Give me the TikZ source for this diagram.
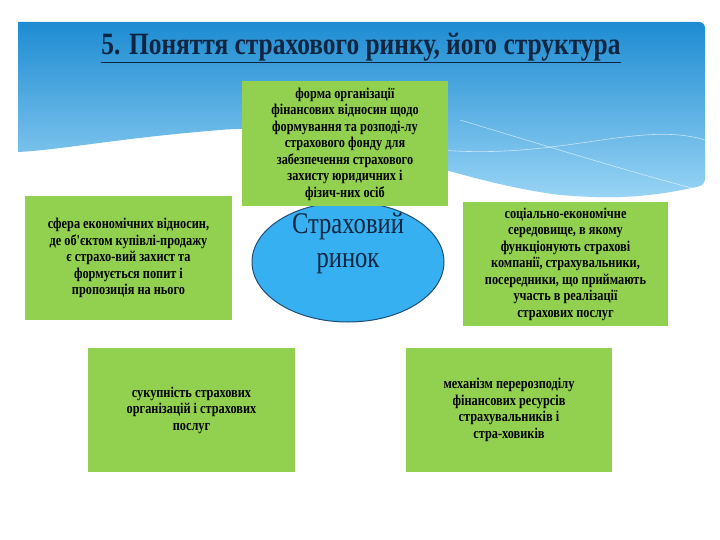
\documentclass[tikz,border=0pt]{standalone}
\usepackage{fontspec}
\setmainfont{Liberation Serif}
\newfontfamily\narrowf[FakeStretch=0.82]{Liberation Serif}
\usetikzlibrary{shapes.geometric}
\definecolor{gbox}{HTML}{92D050}
\definecolor{ell}{HTML}{36B0F0}
\definecolor{ellb}{HTML}{1F4E79}
\definecolor{navy}{HTML}{10253F}
\definecolor{bluetop}{HTML}{1E8CD2}
\definecolor{bluebot}{HTML}{9AD5F5}
\begin{document}
\begin{tikzpicture}[x=1pt,y=-1pt,
  gb/.style={fill=gbox,draw=none,inner sep=0pt,align=center,font=\narrowf\bfseries\fontsize{15}{16.5}\selectfont,text=black}]
\useasboundingbox (0,0) rectangle (720,540);
\fill[white] (0,0) rectangle (720,540);
\shade[top color=bluetop,bottom color=bluebot,rounded corners=6pt]
  (18,22) -- (705,22) -- (705,185) [sharp corners] .. controls (640,200) and (600,198) .. (560,195)
  .. controls (440,180) and (330,120) .. (220,130) .. controls (120,138) and (60,150) .. (18,152) -- cycle;
\draw[white,opacity=0.6,line width=0.6pt] (440,150) .. controls (560,160) and (640,120) .. (705,140);
\draw[white,opacity=0.6,line width=0.6pt] (460,120) .. controls (560,150) and (640,175) .. (700,190);
\node[font=\narrowf\bfseries\fontsize{31}{33}\selectfont,text=navy] (title) at (361,48) {\underline{5. Поняття страхового ринку, його структура}};
\node[ellipse,fill=ell,draw=ellb,line width=1pt,minimum width=192pt,minimum height=120pt,inner sep=0pt] (mid) at (348,262) {};
\node[align=center,text=navy,font=\narrowf\fontsize{30}{34}\selectfont] (midtext) at (348,262) {Страховий\\ринок\\[10pt]};
\node[gb,minimum width=206pt,minimum height=125pt] (top) at (345,144) {форма організації\\фінансових відносин щодо\\формування та розподі-лу\\страхового фонду для\\забезпечення страхового\\захисту юридичних і\\фізич-них осіб};
\node[gb,minimum width=207pt,minimum height=124pt] (left) at (128.5,258) {сфера економічних відносин,\\де об'єктом купівлі-продажу\\є страхо-вий захист та\\формується попит і\\пропозиція на нього};
\node[gb,minimum width=205pt,minimum height=124pt] (right) at (565.5,264) {соціально-економічне\\середовище, в якому\\функціонують страхові\\компанії, страхувальники,\\посередники, що приймають\\участь в реалізації\\страхових послуг};
\node[gb,minimum width=207pt,minimum height=124pt] (bl) at (191.5,410) {сукупність страхових\\організацій і страхових\\послуг};
\node[gb,minimum width=206pt,minimum height=124pt] (br) at (509,410) {механізм перерозподілу\\фінансових ресурсів\\страхувальників і\\стра-ховиків};
\end{tikzpicture}
\end{document}
